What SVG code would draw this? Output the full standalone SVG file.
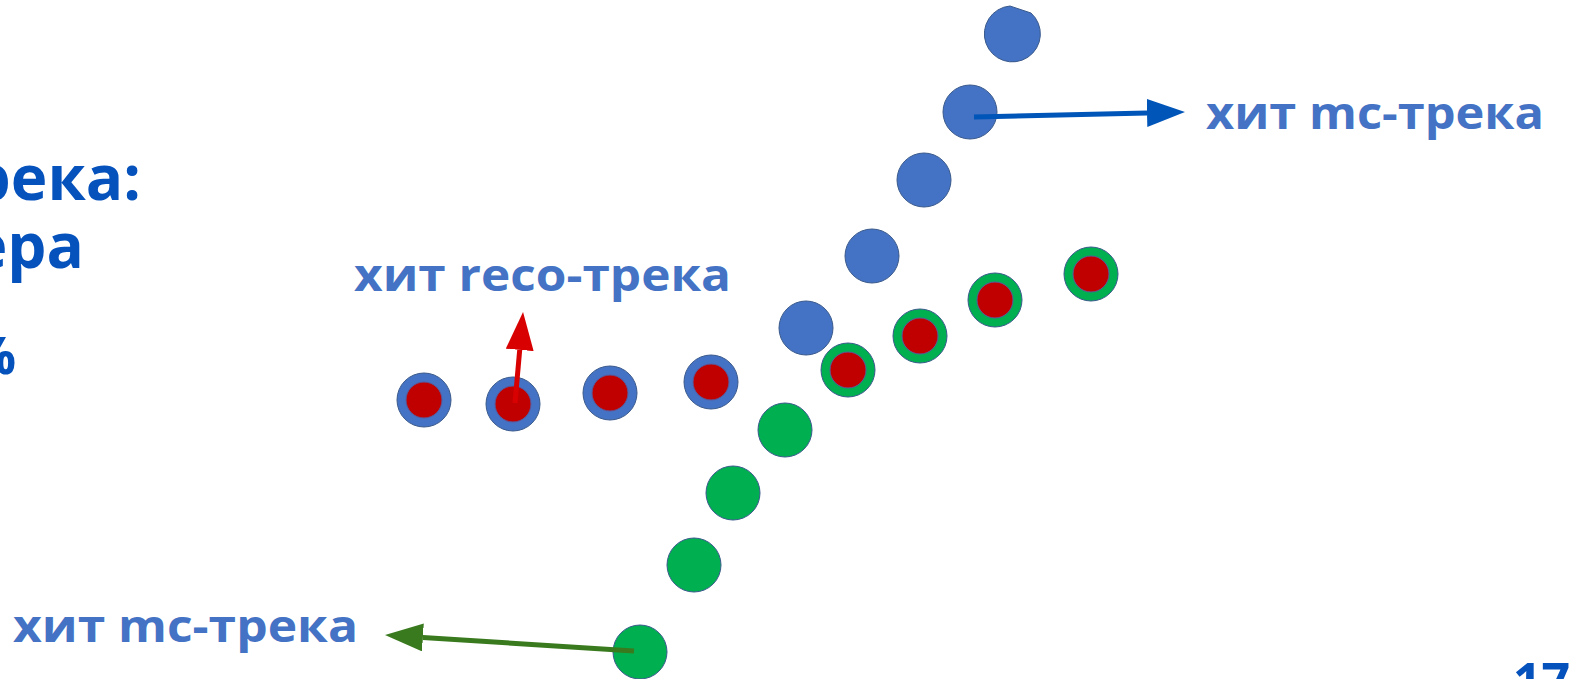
<svg xmlns="http://www.w3.org/2000/svg" width="1578" height="679" viewBox="0 0 1578 679">
  <style>
    .title { font-family: "Open Sans", "Liberation Sans", sans-serif; font-weight: 700; fill: #0652BD; }
    .label { font-family: "Open Sans", "Liberation Sans", sans-serif; font-weight: 700; fill: #4472C4; font-size: 45px; }
    .mc { fill: #4472C4; stroke: #3A5A8C; stroke-width: 1; }
    .sim { fill: #00B050; stroke: #3A5A8C; stroke-width: 1; }
    .reco { fill: #C00000; stroke: #5A5A9C; stroke-width: 1; }
  </style>
  <defs>
    <marker id="headBlue" markerUnits="userSpaceOnUse" markerWidth="38" markerHeight="28" viewBox="0 0 38 28" refX="0" refY="14" orient="auto">
      <path d="M0,0 L38,14 L0,28 Z" fill="#0055B8"/>
    </marker>
    <marker id="headGreen" markerUnits="userSpaceOnUse" markerWidth="38" markerHeight="28" viewBox="0 0 38 28" refX="0" refY="14" orient="auto">
      <path d="M0,0 L38,14 L0,28 Z" fill="#3A7A1E"/>
    </marker>
    <marker id="headRed" markerUnits="userSpaceOnUse" markerWidth="38" markerHeight="28" viewBox="0 0 38 28" refX="0" refY="14" orient="auto">
      <path d="M0,0 L38,14 L0,28 Z" fill="#D80000"/>
    </marker>
  </defs>

  <rect width="1578" height="679" fill="#FFFFFF"/>

  <!-- title fragments at the left edge -->
  <g id="title-left">
    <text class="title" x="141" y="200" font-size="62" text-anchor="end">река:</text>
    <text class="title" x="84" y="268" font-size="62" text-anchor="end">ера</text>
    <text class="title" x="16" y="374" font-size="52" text-anchor="end">%</text>
  </g>

  <!-- page number at the bottom right -->
  <g id="page-number">
    <text class="title" x="1513" y="699" font-size="50">17/</text>
  </g>

  <!-- mc track (blue) -->
  <g id="mc-track-blue">
    <path class="mc" d="M1010,6 L1031,13 A28,28 0 1,1 1010,6 Z"/>
    <circle class="mc" cx="970" cy="112" r="27"/>
    <circle class="mc" cx="924" cy="180" r="27"/>
    <circle class="mc" cx="872" cy="256" r="27"/>
    <circle class="mc" cx="806" cy="328" r="27"/>
  </g>

  <!-- shared hits on the blue track -->
  <g id="reco-hits-blue">
    <circle class="mc" cx="424" cy="400" r="27"/>
    <circle class="reco" cx="424" cy="400" r="18"/>
    <circle class="mc" cx="513" cy="404" r="27"/>
    <circle class="reco" cx="513" cy="404" r="18"/>
    <circle class="mc" cx="610" cy="393" r="27"/>
    <circle class="reco" cx="610" cy="393" r="18"/>
    <circle class="mc" cx="711" cy="382" r="27"/>
    <circle class="reco" cx="711" cy="382" r="18"/>
  </g>

  <!-- mc track (green) -->
  <g id="mc-track-green">
    <circle class="sim" cx="785" cy="430" r="27"/>
    <circle class="sim" cx="733" cy="493" r="27"/>
    <circle class="sim" cx="694" cy="565" r="27"/>
    <circle class="sim" cx="640" cy="652" r="27"/>
  </g>

  <!-- shared hits on the green track -->
  <g id="reco-hits-green">
    <circle class="sim" cx="848" cy="370" r="27"/>
    <circle class="reco" cx="848" cy="370" r="18"/>
    <circle class="sim" cx="920" cy="336" r="27"/>
    <circle class="reco" cx="920" cy="336" r="18"/>
    <circle class="sim" cx="995" cy="300" r="27"/>
    <circle class="reco" cx="995" cy="300" r="18"/>
    <circle class="sim" cx="1091" cy="274" r="27"/>
    <circle class="reco" cx="1091" cy="274" r="18"/>
  </g>

  <!-- pointer arrows -->
  <g id="connectors" fill="none" stroke-width="5">
    <line x1="974" y1="117" x2="1147" y2="112.9" stroke="#0055B8" marker-end="url(#headBlue)"/>
    <line x1="634" y1="651" x2="422.9" y2="637.4" stroke="#3A7A1E" marker-end="url(#headGreen)"/>
    <line x1="515" y1="403" x2="519.7" y2="349.9" stroke="#D80000" marker-end="url(#headRed)"/>
  </g>

  <!-- labels -->
  <g id="label-mc-top">
    <text class="label" x="1206" y="129" textLength="338" lengthAdjust="spacingAndGlyphs">хит mc-трека</text>
  </g>
  <g id="label-reco">
    <text class="label" x="354" y="291" textLength="377" lengthAdjust="spacingAndGlyphs">хит reco-трека</text>
  </g>
  <g id="label-mc-bottom">
    <text class="label" x="13" y="642" textLength="345" lengthAdjust="spacingAndGlyphs">хит mc-трека</text>
  </g>
</svg>
